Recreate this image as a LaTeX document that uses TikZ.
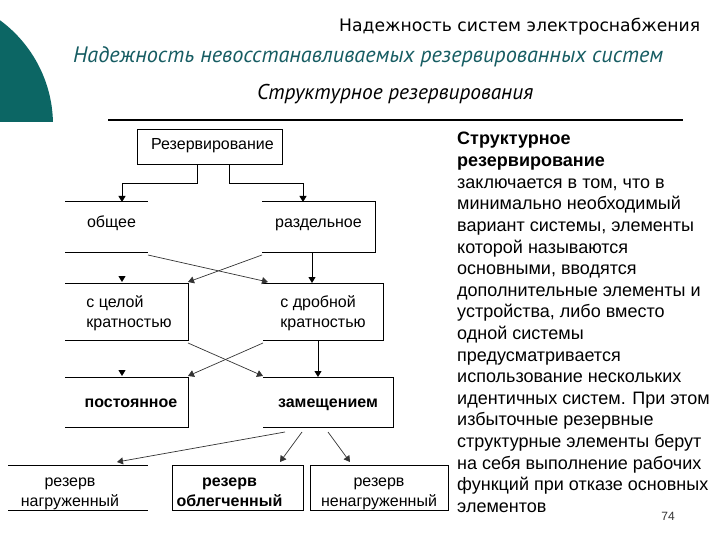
\documentclass[tikz,border=0pt]{standalone}
\usepackage{fontspec}
\setmainfont{Liberation Sans}
\newfontfamily\dvs{DejaVu Sans}
\newfontfamily\pts{PT Sans}
\usetikzlibrary{arrows.meta}
\definecolor{tealshape}{RGB}{12,102,100}
\definecolor{titleteal}{RGB}{22,92,98}
\begin{document}
\begin{tikzpicture}[x=1pt,y=-1pt,
  box/.style={anchor=north west, inner sep=0pt, outer sep=0pt, align=center,
    font=\fontsize{16}{20}\selectfont},
  border/.style={line width=1pt, black},
  conn/.style={line width=0.7pt, black!80},
  tip/.style={-{Triangle[length=6pt,width=7pt]}},
  txt/.style={anchor=base west, inner sep=0pt, font=\fontsize{18}{21.6}\selectfont},
]
\useasboundingbox (0,0) rectangle (720,540);

% teal quarter shape
\begin{scope}
  \clip (0,0) rectangle (60,122);
  \fill[tealshape] (-77,125) circle[radius=130];
\end{scope}

% headers
\node[anchor=base west, inner sep=0pt] (h1) at (339,32)
  {\resizebox{361pt}{!}{\dvs\fontsize{16}{18}\selectfont Надежность систем электроснабжения}};
\node[anchor=base west, inner sep=0pt, text=titleteal] (h2) at (73,63)
  {\resizebox{590pt}{!}{\pts\itshape\fontsize{18}{20}\selectfont Надежность невосстанавливаемых резервированных систем}};
\node[anchor=base west, inner sep=0pt] (h3) at (257,100)
  {\resizebox{276pt}{!}{\pts\itshape\fontsize{18}{20}\selectfont Структурное резервирования}};
\coordinate (ruleL) at (108,120);
\coordinate (ruleR) at (683,120);
\draw[line width=1.3pt] (ruleL) -- (ruleR);

% boxes
\node[box, minimum width=145pt, minimum height=35pt, text height=10.5pt, text depth=5.5pt] (R) at (137,130) {\hspace*{6pt}Резервирование};
\node[box, minimum width=83pt, minimum height=50pt, text height=8pt, text depth=8pt] (A) at (65,202) {\hspace*{10pt}общее};
\node[box, minimum width=113pt, minimum height=50pt, text height=8pt, text depth=8pt] (B) at (262,202) {раздельное};
\node[box, minimum width=123pt, minimum height=57pt, text height=5pt, text depth=14pt] (C) at (65,283)
  {\hspace*{5pt}\begin{tabular}[t]{@{}l@{}}с целой\\кратностью\end{tabular}};
\node[box, minimum width=120pt, minimum height=57pt, text height=5pt, text depth=14pt] (D) at (263,283)
  {\begin{tabular}[t]{@{}l@{}}с дробной\\кратностью\end{tabular}};
\node[box, minimum width=123pt, minimum height=50pt, text height=13pt, text depth=3pt] (E) at (65,377) {\hspace*{9pt}\textbf{постоянное}};
\node[box, minimum width=130pt, minimum height=50pt, text height=13pt, text depth=3pt] (F) at (263,377) {\textbf{замещением}};
\node[box, minimum width=140pt, minimum height=45pt, text height=8pt, text depth=10pt] (G) at (8,465)
  {\hspace*{-16pt}\begin{tabular}[t]{@{}c@{}}резерв\\нагруженный\end{tabular}};
\node[box, minimum width=131pt, minimum height=45pt, text height=8pt, text depth=10pt] (H) at (172,465)
  {\hspace*{-16pt}\begin{tabular}[t]{@{}c@{}}\textbf{резерв}\\\textbf{облегченный}\end{tabular}};
\node[box, minimum width=138pt, minimum height=45pt, text height=8pt, text depth=10pt] (I) at (310,465)
  {\begin{tabular}[t]{@{}c@{}}резерв\\ненагруженный\end{tabular}};

% borders
\draw[border] (R.north west) rectangle (R.south east);
\draw[border] (A.north west) -- (A.north east) (A.south west) -- (A.south east);
\draw[border] (B.north west) -- (B.north east) -- (B.south east) -- (B.south west);
\draw[border] (C.north west) -- (C.north east) -- (C.south east) -- (C.south west);
\draw[border] (D.north west) -- (D.north east) -- (D.south east) -- (D.south west);
\draw[border] (E.north west) -- (E.north east) -- (E.south east) -- (E.south west);
\draw[border] (F.north west) -- (F.north east) -- (F.south east) -- (F.south west);
\draw[border] (G.north west) -- (G.north east) (G.south west) -- (G.south east);
\draw[border] (H.north west) rectangle (H.south east);
\draw[border] (I.north west) rectangle (I.south east);

% connectors
\draw[border,tip] ([xshift=-12pt]R.south) -- ++(0,19) -| ([xshift=57pt]A.north west);
\draw[border,tip] ([xshift=20pt]R.south) -- ++(0,19) -| ([xshift=41pt]B.north west);
\draw[conn,tip] ([yshift=-3pt]A.south east) -- ([xshift=5pt,yshift=1pt]D.north west);
\draw[conn,tip] ([yshift=-3pt]B.south west) -- ([yshift=1pt]C.north east);
\draw[border,tip] ([xshift=50pt]B.south west) -- ([xshift=49pt]D.north west);
\draw[border,tip] ([xshift=57pt,yshift=7pt]C.north west) -- ([xshift=57pt,yshift=1pt]C.north west);
\draw[conn,tip] ([yshift=-3pt]C.south east) -- ([yshift=1pt]F.north west);
\draw[conn,tip] ([yshift=-3pt]D.south west) -- ([yshift=1pt]E.north east);
\draw[border,tip] ([xshift=55pt]D.south west) -- ([xshift=55pt]F.north west);
\draw[border,tip] ([xshift=57pt,yshift=7pt]E.north west) -- ([xshift=57pt,yshift=1pt]E.north west);
\draw[conn,tip] ([xshift=22pt,yshift=-5pt]F.south west) -- ([xshift=109pt,yshift=3pt]G.north west);
\draw[conn,tip] ([xshift=39pt,yshift=-5pt]F.south west) -- ([xshift=108pt,yshift=3pt]H.north west);
\draw[conn,tip] ([xshift=65pt,yshift=-5pt]F.south west) -- ([xshift=40pt,yshift=3pt]I.north west);

% right text
\foreach \t [count=\i] in {%
  {\textbf{Структурное}},
  {\textbf{резервирование}},
  {заключается в том, что в},
  {минимально необходимый},
  {вариант системы, элементы},
  {которой называются},
  {основными, вводятся},
  {дополнительные элементы и},
  {устройства, либо вместо},
  {одной системы},
  {предусматривается},
  {использование нескольких},
  {идентичных систем. При этом},
  {избыточные резервные},
  {структурные элементы берут},
  {на себя выполнение рабочих},
  {функций при отказе основных},
  {элементов}}
  \node[txt] (t\i) at (457,{145+21.6*(\i-1)}) {\t};

\node[anchor=base, inner sep=0pt, font=\fontsize{12}{14}\selectfont, text=black!80] (pg) at (668,520) {74};
\end{tikzpicture}
\end{document}
